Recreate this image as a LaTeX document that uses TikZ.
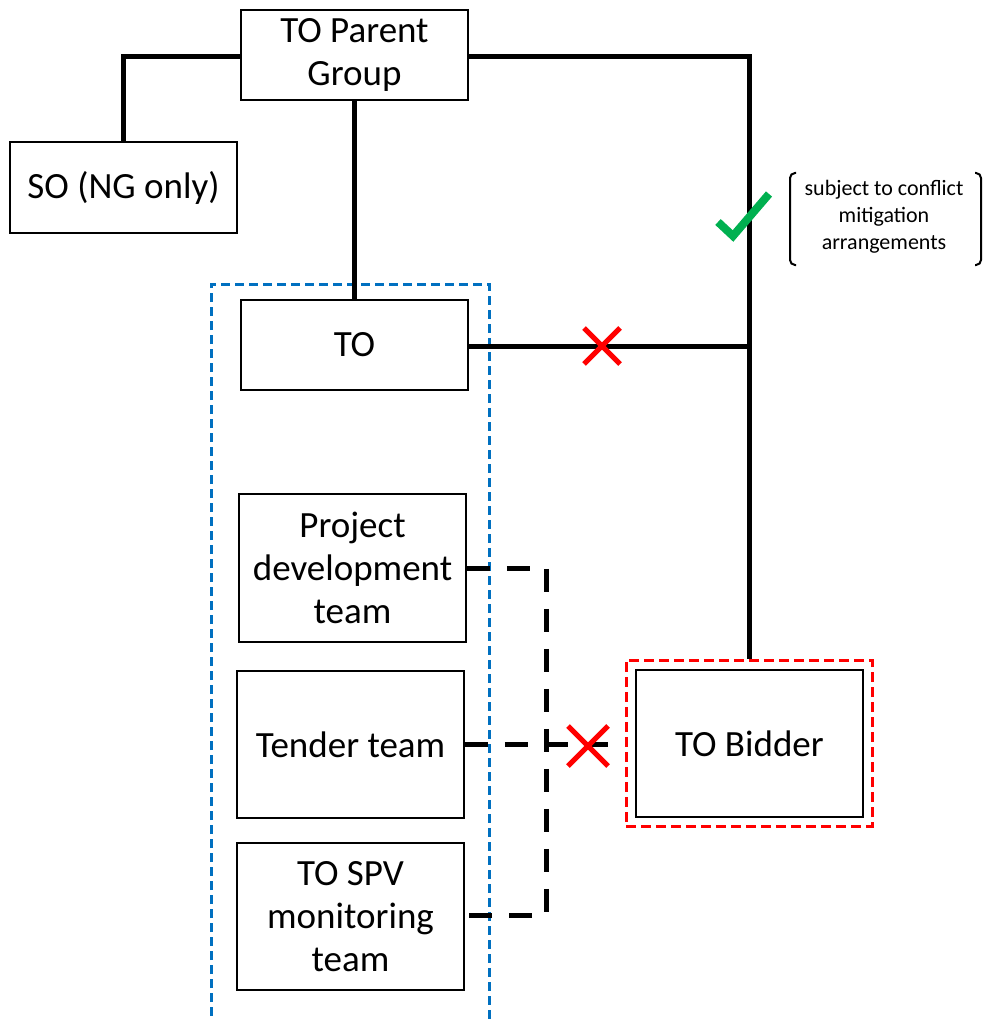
\documentclass[tikz,border=0pt]{standalone}
\usepackage{fontspec}
\setmainfont{Carlito}
\begin{document}
\begin{tikzpicture}[x=1pt,y=-1pt,
  box/.style={draw=black,line width=1.6pt,fill=white,inner sep=0pt,align=center,
    font=\fontsize{37}{43}\selectfont},
  link/.style={line width=5pt,black},
  dlink/.style={line width=5pt,black,dash pattern=on 23pt off 17pt},
  cross/.style={line width=5pt,red},
  tick/.style={line width=8pt,color=tickgreen},
  bracket/.style={line width=2pt,black,rounded corners=5pt}
]
\definecolor{tickgreen}{RGB}{0,176,80}
\definecolor{groupblue}{RGB}{0,112,192}
\useasboundingbox (0,0) rectangle (985,1019);

% grouping frames
\draw[groupblue,line width=3pt,dash pattern=on 9pt off 5pt] (211,1030) -- (211,284) -- (489,284) -- (489,1030);

% boxes
\node[box,minimum width=227pt,minimum height=90pt] (parent) at (354.5,55) {TO Parent\\Group};
\node[box,minimum width=227pt,minimum height=91pt] (so) at (123.5,187.5) {SO (NG only)};
\node[box,minimum width=227pt,minimum height=90pt] (to) at (354.5,345) {TO};
\node[box,minimum width=227pt,minimum height=148pt] (pdt) at (352.5,568) {Project\\development\\team};
\node[box,minimum width=227pt,minimum height=147pt] (tender) at (350.5,744.5) {Tender team};
\node[box,minimum width=227pt,minimum height=147pt] (spv) at (350.5,916.5) {TO SPV\\monitoring\\team};
\node[draw=red,line width=3pt,dash pattern=on 10pt off 5pt,minimum width=246pt,minimum height=166pt,inner sep=0pt] (bidframe) at (749,743) {};
\node[box,minimum width=227pt,minimum height=147pt] (bidder) at (749.5,743.5) {TO Bidder};

% junction points
\coordinate (jl) at (123,57);
\coordinate (jr) at (749,57);
\coordinate (jto) at (749,346);
\coordinate (dtop) at (546,568);
\coordinate (dmid) at (546,744);
\coordinate (dbot) at (546,915);

% solid reporting lines
\draw[link] (parent.west |- jl) -- (jl) -- (so.north -| jl);
\draw[link] (parent.south) -- (to.north);
\draw[link] (parent.east |- jr) -- (jr) -- (bidframe.north -| jr);
\draw[link] (to.east |- jto) -- (jto);

% dashed links between teams and bidder
\draw[dlink] (pdt.east |- dtop) -- (dtop) -- (dbot) -- (spv.east |- dbot);
\draw[dlink] (tender.east) -- (bidframe.west |- tender.east);

% red crosses
\node (x1) at (602,346) {};
\draw[cross] ([shift={(-18,-18)}]x1.center) -- ([shift={(18,18)}]x1.center)
             ([shift={(-18,18)}]x1.center) -- ([shift={(18,-18)}]x1.center);
\node (x2) at (588,746) {};
\draw[cross] ([shift={(-20,-20)}]x2.center) -- ([shift={(20,20)}]x2.center)
             ([shift={(-20,20)}]x2.center) -- ([shift={(20,-20)}]x2.center);

% green tick and note
\draw[tick] (718,222) -- (733,236) -- (769,194);
\node[align=center,font=\fontsize{22}{27}\selectfont,inner sep=0pt] (note) at (884,217)
  {subject to conflict\\mitigation\\arrangements};
\draw[bracket] (796,173) -- (790,173) -- (790,265) -- (796,265);
\draw[bracket] (975,173) -- (981,173) -- (981,265) -- (975,265);
\end{tikzpicture}
\end{document}
